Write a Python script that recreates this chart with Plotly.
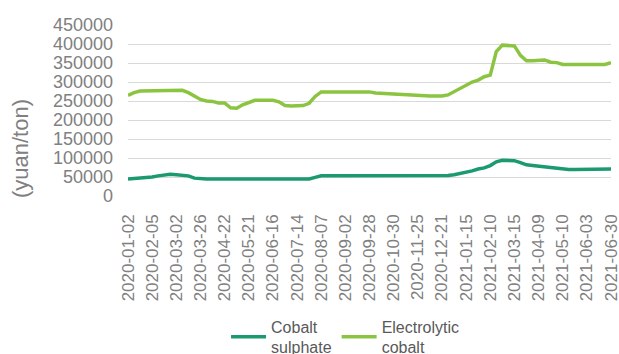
import plotly.graph_objects as go

dates = [
    "2020-01-02", "2020-01-09", "2020-01-16", "2020-01-23",
    "2020-02-05", "2020-02-11", "2020-02-17", "2020-02-24",
    "2020-03-02", "2020-03-09", "2020-03-13", "2020-03-19",
    "2020-03-26", "2020-04-01", "2020-04-09", "2020-04-15",
    "2020-04-22", "2020-04-29", "2020-05-08", "2020-05-14",
    "2020-05-21", "2020-05-27", "2020-06-02", "2020-06-09",
    "2020-06-16", "2020-06-22", "2020-06-30", "2020-07-07",
    "2020-07-14", "2020-07-20", "2020-07-24", "2020-07-31",
    "2020-08-07", "2020-08-13", "2020-08-19", "2020-08-26",
    "2020-09-02", "2020-09-08", "2020-09-14", "2020-09-21",
    "2020-09-28", "2020-10-13", "2020-10-19", "2020-10-23",
    "2020-10-30", "2020-11-05", "2020-11-11", "2020-11-18",
    "2020-11-25", "2020-12-01", "2020-12-07", "2020-12-15",
    "2020-12-21", "2020-12-28", "2021-01-04", "2021-01-08",
    "2021-01-15", "2021-01-21", "2021-01-27", "2021-02-03",
    "2021-02-10", "2021-02-22", "2021-02-26", "2021-03-08",
    "2021-03-15", "2021-03-19", "2021-03-26", "2021-04-01",
    "2021-04-09", "2021-04-16", "2021-04-23", "2021-04-30",
    "2021-05-10", "2021-05-14", "2021-05-20", "2021-05-27",
    "2021-06-03", "2021-06-09", "2021-06-17", "2021-06-23",
    "2021-06-30",
]

tick_dates = [
    "2020-01-02", "2020-02-05", "2020-03-02", "2020-03-26", "2020-04-22",
    "2020-05-21", "2020-06-16", "2020-07-14", "2020-08-07", "2020-09-02",
    "2020-09-28", "2020-10-30", "2020-11-25", "2020-12-21", "2021-01-15",
    "2021-02-10", "2021-03-15", "2021-04-09", "2021-05-10", "2021-06-03",
    "2021-06-30",
]

cobalt_sulphate = [
    45000, 46000, 49000, 50000, 50000, 53000, 56000, 57000,
    56000, 54000, 53000, 47000, 45000, 45000, 45000, 45000,
    45000, 45000, 45000, 45000, 45000, 45000, 45000, 45000,
    45000, 45000, 45000, 45000, 45000, 45000, 45000, 49000,
    53000, 53500, 53500, 53500, 53500, 53500, 53500, 53500,
    53500, 53500, 53500, 53500, 53500, 53500, 53500, 53500,
    53500, 53500, 53500, 53500, 53500, 54000, 56000, 59000,
    62000, 66000, 71000, 74000, 80000, 90000, 94000, 94000,
    93000, 88000, 82000, 80000, 78000, 76000, 75000, 72000,
    70000, 70000, 70000, 70000, 70000, 70000, 70000, 70000,
    71000,
]

electrolytic_cobalt = [
    265000, 272000, 276000, 276000, 276000, 276000, 276000, 278000,
    278000, 278000, 272000, 262000, 254000, 250000, 249000, 245000,
    245000, 232000, 231000, 240000, 246000, 252000, 252000, 252000,
    252000, 248000, 238000, 237000, 237000, 238000, 244000, 262000,
    274000, 274000, 274000, 274000, 274000, 274000, 274000, 274000,
    274000, 271000, 270000, 270000, 267000, 267000, 266000, 266000,
    263000, 263000, 263000, 263000, 263000, 266000, 275000, 282000,
    292000, 300000, 305000, 314000, 318000, 380000, 397000, 397000,
    395000, 370000, 356000, 356000, 358000, 358000, 352000, 351000,
    346000, 346000, 346000, 346000, 346000, 346000, 346000, 346000,
    351000,
]

y_ticks = [0, 50000, 100000, 150000, 200000, 250000, 300000, 350000, 400000, 450000]

FONT = "Liberation Sans, Arial, sans-serif"
GRAY = "#808080"

fig = go.Figure()
fig.add_trace(go.Scatter(
    x=dates, y=cobalt_sulphate, mode="lines", name="Cobalt<br>sulphate",
    line=dict(color="#1B9A72", width=3.5),
))
fig.add_trace(go.Scatter(
    x=dates, y=electrolytic_cobalt, mode="lines", name="Electrolytic<br>cobalt",
    line=dict(color="#8BC441", width=3.5),
))

fig.update_layout(
    width=619, height=354,
    margin=dict(l=128, r=8, t=25, b=158, autoexpand=False),
    paper_bgcolor="white", plot_bgcolor="white",
    font=dict(family=FONT, color=GRAY),
    showlegend=True,
    legend=dict(
        orientation="h", x=0.203, y=-0.664, xanchor="left", yanchor="top",
        font=dict(size=16, color="#595959", family=FONT),
        valign="middle", itemwidth=35, tracegroupgap=0,
        bgcolor="rgba(0,0,0,0)",
    ),
    xaxis=dict(
        type="category", categoryorder="array", categoryarray=dates,
        range=[0, len(dates) - 1], automargin=False,
        tickmode="array", tickvals=tick_dates, ticktext=tick_dates,
        tickangle=-90, tickfont=dict(size=17, color=GRAY, family=FONT),
        showgrid=False, showline=False, ticks="", ticklabelstandoff=14,
        zeroline=False,
    ),
    yaxis=dict(
        range=[0, 450000], tickmode="array", tickvals=y_ticks,
        ticktext=[str(v) for v in y_ticks], automargin=False,
        tickfont=dict(size=18, color=GRAY, family=FONT),
        showgrid=True, gridcolor="#D9D9D9", gridwidth=1,
        zeroline=False, showline=False, ticks="", ticklabelstandoff=14,
    ),
    annotations=[dict(
        text="(yuan/ton)", textangle=-90, showarrow=False,
        xref="paper", yref="paper", x=-0.222, y=0.279,
        xanchor="center", yanchor="middle",
        font=dict(size=22, color=GRAY, family=FONT),
    )],
)

fig.write_html("out.html")
